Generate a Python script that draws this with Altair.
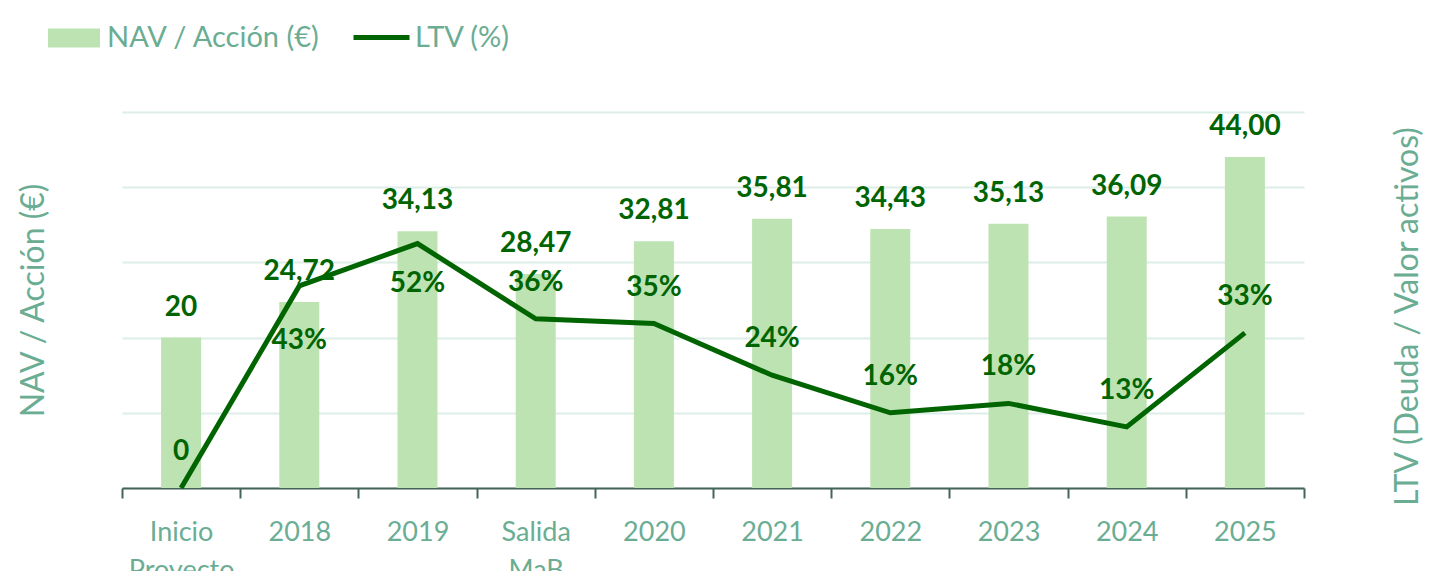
import altair as alt
import pandas as pd

categories = ["Inicio Proyecto", "2018", "2019", "Salida MaB", "2020", "2021", "2022", "2023", "2024", "2025"]
nav = [20, 24.72, 34.13, 28.47, 32.81, 35.81, 34.43, 35.13, 36.09, 44.00]
nav_labels = ["20", "24,72", "34,13", "28,47", "32,81", "35,81", "34,43", "35,13", "36,09", "44,00"]
ltv = [0, 0.43, 0.52, 0.36, 0.35, 0.24, 0.16, 0.18, 0.13, 0.33]
ltv_labels = ["0", "43%", "52%", "36%", "35%", "24%", "16%", "18%", "13%", "33%"]
bar_series = "NAV / Acción (€)"
line_series = "LTV (%)"

FONT = "Lato"
BAR = "#BDE3B3"
LINE = "#006400"
TEAL = "#6AAD93"
GRID = "#DDEDE7"
AXIS = "#44645A"

df = pd.DataFrame({
    "cat": categories,
    "nav": nav,
    "nav_label": nav_labels,
    "ltv": ltv,
    "ltv_label": ltv_labels,
    "bar_s": [bar_series] * len(categories),
    "line_s": [line_series] * len(categories),
})

x = alt.X(
    "cat:N",
    sort=categories,
    scale=alt.Scale(paddingInner=0, paddingOuter=0),
    axis=alt.Axis(
        title=None,
        labelExpr="split(datum.label, ' ')",
        labelAngle=0,
        tickBand="extent",
        ticks=True,
        tickSize=10,
        tickWidth=2,
        tickColor=AXIS,
        domainColor=AXIS,
        domainWidth=2,
        labelFont=FONT,
        labelFontSize=27,
        labelColor=TEAL,
        labelPadding=21,
        labelLineHeight=38,
        grid=False,
    ),
)

y_left = alt.Y(
    "nav:Q",
    scale=alt.Scale(domain=[0, 50]),
    axis=alt.Axis(
        orient="left",
        values=[0, 10, 20, 30, 40, 50],
        labels=False,
        ticks=False,
        domain=False,
        grid=True,
        gridColor=GRID,
        gridWidth=2,
        title="NAV / Acción  (€)",
        titleFont=FONT,
        titleFontSize=32,
        titleFontWeight="normal",
        titleColor=TEAL,
        titlePadding=72,
    ),
)

y_right = alt.Y(
    "ltv:Q",
    scale=alt.Scale(domain=[0, 0.8]),
    axis=alt.Axis(
        orient="right",
        labels=False,
        ticks=False,
        domain=False,
        grid=False,
        title="LTV (Deuda  / Valor activos)",
        titleFont=FONT,
        titleFontSize=32,
        titleFontWeight="normal",
        titleColor=TEAL,
        titleAngle=270,
        titlePadding=120,
        titleY=204,
    ),
)

base = alt.Chart(df)

bars = base.mark_bar(size=40).encode(
    x=x,
    y=y_left,
    fill=alt.Fill(
        "bar_s:N",
        scale=alt.Scale(domain=[bar_series], range=[BAR]),
        legend=alt.Legend(
            title=None,
            orient="none",
            legendX=-74,
            legendY=-100,
            symbolType="M-1,-0.365L1,-0.365L1,0.365L-1,0.365Z",
            symbolSize=2704,
            symbolStrokeWidth=0,
            labelFont=FONT,
            labelFontSize=29,
            labelColor=TEAL,
            labelOffset=7,
            labelLimit=0,
            padding=0,
        ),
    ),
)

bar_text = base.mark_text(
    font=FONT, fontSize=28, fontWeight="bold", color=LINE, baseline="middle", dy=-30
).encode(x=x, y=y_left, text="nav_label:N")

line = base.mark_line(strokeWidth=5).encode(
    x=x,
    y=y_right,
    stroke=alt.Stroke(
        "line_s:N",
        scale=alt.Scale(domain=[line_series], range=[LINE]),
        legend=alt.Legend(
            title=None,
            orient="none",
            legendX=229,
            legendY=-105,
            symbolType="stroke",
            symbolSize=3136,
            symbolStrokeWidth=5,
            labelFont=FONT,
            labelFontSize=29,
            labelColor=TEAL,
            labelOffset=3,
            labelLimit=0,
            padding=0,
        ),
    ),
)

def ltv_text(cats, dy):
    return base.mark_text(
        font=FONT, fontSize=28, fontWeight="bold", color=LINE, baseline="middle", dy=dy
    ).encode(x=x, y=y_right, text="ltv_label:N").transform_filter(
        alt.FieldOneOfPredicate(field="cat", oneOf=cats)
    )

above = [c for c in categories if c not in ("2018", "2019")]
t_above = ltv_text(above, -36)
t_43 = ltv_text(["2018"], 55)
t_52 = ltv_text(["2019"], 40)

left_layer = alt.layer(bars, bar_text)
right_layer = alt.layer(line, t_above, t_43, t_52)

chart = (
    alt.layer(left_layer, right_layer)
    .resolve_scale(y="independent", fill="independent", stroke="independent")
    .properties(
        width=1182,
        height=376,
        autosize=alt.AutoSizeParams(type="none"),
        padding={"left": 114, "top": 104, "right": 121, "bottom": 83},
    )
    .configure_view(stroke=None)
)

chart.save("out.html", embed_options={"renderer": "svg", "actions": False})
